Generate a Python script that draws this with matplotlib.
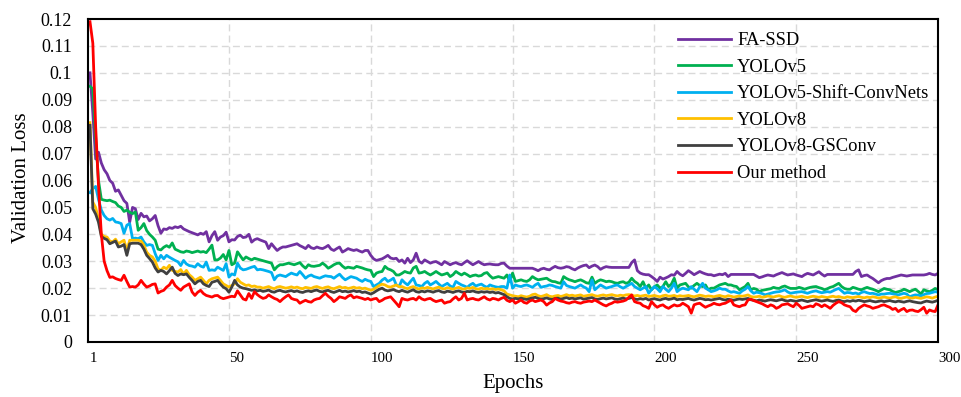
import numpy as np
import matplotlib
matplotlib.use("Agg")
import matplotlib.pyplot as plt

# validation loss per epoch, in units of 1e-4
fa_ssd = [
    1000, 850, 680, 705, 665, 640, 625, 600, 590, 560,
    565, 545, 525, 515, 445, 500, 495, 455, 478, 465,
    468, 450, 458, 470, 432, 404, 420, 418, 425, 422,
    428, 425, 430, 420, 415, 410, 406, 402, 398, 404,
    400, 410, 372, 395, 410, 378, 390, 395, 408, 372,
    380, 379, 392, 397, 388, 390, 400, 371, 380, 384,
    379, 375, 371, 347, 365, 352, 340, 348, 353, 353,
    356, 359, 362, 365, 358, 353, 347, 359, 350, 347,
    353, 349, 347, 352, 359, 345, 340, 347, 353, 334,
    340, 347, 343, 340, 343, 338, 334, 340, 340, 322,
    309, 303, 306, 309, 315, 322, 312, 309, 311, 299,
    305, 293, 311, 295, 305, 330, 300, 293, 305, 299,
    293, 297, 299, 293, 287, 299, 293, 287, 292, 295,
    290, 287, 295, 302, 294, 287, 293, 299, 292, 287,
    289, 290, 288, 287, 287, 292, 293, 282, 274, 274,
    274, 274, 274, 274, 274, 274, 274, 270, 265, 271,
    274, 270, 268, 275, 281, 276, 274, 276, 280, 278,
    272, 268, 275, 280, 284, 286, 276, 282, 286, 280,
    270, 276, 280, 278, 277, 277, 277, 277, 277, 277,
    277, 295, 305, 265, 256, 252, 250, 250, 243, 235,
    225, 241, 234, 238, 243, 250, 248, 262, 252, 246,
    255, 265, 258, 250, 256, 262, 257, 253, 250, 250,
    246, 249, 252, 250, 255, 243, 251, 251, 251, 251,
    251, 251, 251, 251, 251, 245, 239, 242, 246, 249,
    247, 245, 250, 254, 258, 253, 249, 251, 253, 249,
    246, 243, 250, 255, 252, 249, 255, 261, 252, 245,
    251, 251, 251, 251, 251, 251, 251, 251, 251, 251,
    262, 268, 243, 247, 249, 242, 236, 228, 220, 228,
    233, 236, 236, 240, 243, 246, 249, 247, 245, 247,
    249, 249, 249, 249, 249, 251, 255, 251, 249, 255,
]
yolov5 = [
    950, 940, 760, 600, 530, 527, 525, 527, 522, 518,
    505, 500, 485, 490, 482, 477, 483, 415, 425, 440,
    414, 400, 390, 378, 345, 342, 352, 358, 352, 368,
    345, 340, 335, 333, 338, 336, 332, 335, 338, 334,
    336, 332, 345, 360, 305, 305, 312, 325, 305, 340,
    287, 293, 335, 320, 305, 316, 310, 305, 311, 308,
    305, 302, 299, 296, 293, 268, 280, 287, 287, 290,
    293, 290, 287, 291, 295, 283, 274, 287, 282, 281,
    283, 285, 293, 285, 274, 280, 287, 292, 293, 282,
    274, 278, 276, 274, 281, 278, 275, 271, 268, 266,
    243, 256, 260, 262, 281, 272, 268, 262, 249, 249,
    255, 262, 258, 256, 275, 281, 256, 258, 262, 255,
    249, 255, 262, 255, 249, 252, 256, 243, 250, 262,
    255, 249, 256, 250, 243, 247, 249, 245, 247, 255,
    258, 246, 237, 240, 243, 240, 237, 249, 225, 256,
    225, 228, 231, 227, 225, 231, 243, 236, 231, 233,
    235, 237, 230, 225, 224, 220, 218, 243, 236, 231,
    228, 224, 228, 231, 226, 220, 218, 241, 218, 226,
    231, 228, 224, 226, 224, 220, 218, 222, 224, 218,
    222, 237, 225, 218, 206, 224, 200, 212, 194, 205,
    212, 200, 206, 224, 206, 215, 237, 200, 212, 215,
    218, 205, 200, 210, 218, 210, 206, 212, 194, 200,
    200, 206, 212, 215, 218, 212, 212, 208, 206, 194,
    200, 206, 218, 194, 199, 196, 187, 192, 194, 196,
    198, 203, 200, 199, 205, 208, 203, 199, 199, 199,
    203, 200, 196, 200, 203, 205, 206, 202, 199, 194,
    198, 203, 206, 212, 218, 206, 199, 196, 196, 203,
    200, 196, 194, 199, 203, 199, 196, 192, 187, 193,
    199, 196, 194, 188, 184, 187, 190, 196, 192, 187,
    192, 196, 188, 178, 194, 190, 187, 192, 199, 194,
]
yolov5_shift = [
    555, 570, 578, 530, 490, 470, 458, 453, 459, 446,
    444, 440, 404, 434, 440, 384, 386, 384, 390, 372,
    359, 362, 359, 328, 303, 322, 309, 322, 315, 309,
    303, 298, 284, 303, 290, 284, 282, 278, 291, 282,
    278, 297, 266, 268, 266, 278, 272, 266, 291, 241,
    253, 249, 293, 275, 268, 270, 274, 278, 281, 268,
    270, 268, 265, 262, 258, 231, 245, 249, 246, 243,
    250, 256, 252, 249, 262, 250, 237, 245, 249, 243,
    240, 237, 242, 246, 244, 243, 237, 245, 252, 240,
    231, 237, 243, 240, 237, 230, 225, 233, 228, 225,
    206, 212, 218, 230, 237, 225, 230, 237, 212, 206,
    231, 220, 212, 225, 237, 212, 210, 206, 218, 225,
    212, 218, 225, 215, 206, 212, 218, 208, 203, 225,
    218, 212, 208, 203, 212, 218, 208, 212, 215, 208,
    203, 212, 208, 205, 203, 206, 206, 200, 249, 200,
    212, 208, 206, 210, 212, 208, 203, 212, 218, 203,
    206, 208, 212, 210, 206, 203, 200, 224, 210, 206,
    203, 200, 206, 212, 205, 200, 187, 231, 194, 203,
    212, 206, 200, 203, 206, 210, 212, 205, 200, 206,
    212, 218, 206, 200, 194, 200, 206, 181, 195, 206,
    198, 187, 206, 196, 187, 200, 218, 187, 195, 200,
    197, 194, 206, 196, 187, 205, 218, 200, 194, 187,
    190, 194, 200, 196, 196, 190, 185, 187, 184, 181,
    190, 196, 206, 190, 181, 185, 183, 180, 175, 178,
    181, 184, 186, 187, 190, 194, 186, 181, 183, 185,
    186, 187, 184, 181, 185, 188, 190, 186, 183, 185,
    187, 185, 190, 195, 199, 190, 181, 184, 183, 180,
    182, 178, 184, 187, 183, 180, 181, 178, 175, 178,
    178, 180, 181, 179, 177, 175, 178, 181, 178, 168,
    172, 175, 174, 171, 176, 180, 181, 184, 187, 185,
]
yolov8 = [
    815, 520, 500, 455, 400, 392, 390, 375, 372, 382,
    365, 372, 378, 340, 378, 378, 378, 378, 375, 360,
    334, 322, 316, 300, 272, 266, 278, 272, 285, 266,
    262, 260, 269, 253, 266, 250, 241, 229, 235, 241,
    229, 216, 229, 235, 238, 241, 229, 216, 210, 204,
    210, 216, 235, 222, 216, 210, 212, 206, 208, 204,
    204, 200, 203, 206, 201, 198, 204, 206, 203, 200,
    202, 205, 201, 204, 200, 198, 203, 201, 199, 204,
    206, 202, 199, 203, 205, 200, 198, 202, 206, 201,
    203, 199, 201, 204, 200, 202, 198, 200, 196, 192,
    196, 203, 210, 215, 212, 206, 204, 208, 212, 205,
    206, 201, 198, 203, 206, 200, 197, 201, 199, 203,
    200, 197, 201, 204, 199, 197, 202, 199, 196, 200,
    203, 198, 196, 201, 199, 203, 198, 196, 200, 197,
    199, 196, 198, 195, 197, 194, 190, 178, 175, 172,
    170, 168, 172, 169, 167, 170, 176, 178, 172, 169,
    172, 176, 170, 168, 171, 173, 169, 172, 176, 172,
    174, 171, 173, 175, 170, 172, 174, 176, 172, 170,
    173, 175, 172, 174, 176, 173, 171, 174, 172, 175,
    176, 174, 171, 173, 170, 172, 174, 169, 171, 173,
    170, 168, 172, 174, 170, 171, 173, 169, 172, 170,
    171, 173, 170, 168, 171, 174, 172, 169, 171, 170,
    168, 171, 173, 170, 168, 172, 170, 167, 169, 171,
    170, 172, 175, 169, 167, 168, 170, 166, 168, 171,
    169, 167, 170, 172, 168, 166, 169, 171, 168, 166,
    168, 170, 167, 165, 168, 170, 168, 166, 169, 167,
    165, 168, 170, 167, 169, 166, 164, 168, 166, 165,
    167, 169, 166, 164, 167, 165, 168, 166, 163, 165,
    167, 165, 163, 166, 168, 164, 162, 165, 167, 164,
    163, 166, 164, 162, 165, 168, 166, 163, 167, 170,
]
yolov8_gsconv = [
    805, 495, 475, 445, 392, 385, 380, 365, 370, 375,
    353, 356, 362, 322, 365, 367, 367, 367, 362, 345,
    322, 310, 297, 275, 260, 266, 262, 253, 265, 278,
    255, 247, 253, 250, 253, 240, 229, 216, 225, 229,
    216, 210, 206, 222, 225, 229, 215, 204, 198, 185,
    204, 229, 212, 204, 200, 198, 195, 192, 194, 190,
    192, 188, 190, 193, 187, 185, 190, 192, 188, 186,
    189, 191, 187, 190, 186, 184, 188, 190, 187, 191,
    193, 188, 186, 190, 192, 187, 184, 188, 192, 187,
    189, 186, 188, 191, 187, 189, 184, 186, 182, 178,
    183, 190, 196, 200, 193, 190, 192, 195, 190, 187,
    192, 188, 185, 190, 194, 187, 185, 189, 186, 190,
    188, 185, 189, 191, 186, 184, 189, 187, 184, 188,
    190, 186, 184, 188, 187, 190, 186, 184, 187, 185,
    187, 184, 186, 182, 184, 180, 176, 168, 162, 160,
    162, 160, 163, 160, 158, 161, 164, 166, 162, 159,
    161, 164, 160, 158, 162, 163, 159, 162, 165, 161,
    163, 160, 162, 164, 159, 161, 163, 165, 160, 158,
    161, 163, 160, 162, 164, 160, 158, 161, 163, 160,
    162, 165, 160, 158, 161, 159, 162, 156, 159, 161,
    158, 156, 160, 162, 158, 160, 163, 157, 159, 158,
    160, 162, 158, 156, 159, 162, 160, 157, 158, 156,
    158, 160, 162, 158, 156, 159, 157, 155, 158, 160,
    158, 160, 162, 157, 155, 153, 156, 154, 152, 155,
    157, 155, 153, 156, 158, 154, 152, 155, 153, 151,
    154, 156, 153, 150, 153, 155, 157, 154, 152, 154,
    156, 153, 151, 154, 156, 152, 150, 153, 151, 154,
    152, 155, 153, 150, 152, 154, 151, 149, 151, 153,
    150, 152, 154, 151, 149, 152, 150, 148, 151, 153,
    150, 148, 146, 145, 149, 152, 150, 148, 151, 155,
]
our_method = [
    1190, 1110, 800, 580, 400, 300, 265, 240, 242, 236,
    232, 229, 248, 225, 204, 206, 204, 212, 229, 215,
    204, 208, 214, 216, 182, 188, 192, 204, 212, 229,
    210, 200, 192, 204, 210, 216, 186, 173, 185, 192,
    180, 173, 170, 167, 172, 173, 165, 161, 164, 167,
    170, 168, 190, 175, 160, 156, 180, 162, 187, 176,
    168, 162, 165, 175, 168, 162, 158, 150, 160, 168,
    175, 162, 158, 156, 144, 150, 155, 150, 148, 156,
    160, 162, 172, 181, 170, 162, 150, 158, 168, 165,
    162, 170, 175, 164, 168, 165, 162, 158, 162, 156,
    160, 162, 150, 155, 162, 165, 168, 156, 144, 131,
    162, 158, 156, 160, 162, 156, 168, 160, 156, 160,
    162, 155, 150, 153, 156, 144, 148, 150, 160, 168,
    156, 162, 181, 156, 160, 162, 158, 156, 162, 168,
    160, 156, 162, 160, 156, 162, 166, 155, 150, 156,
    144, 150, 156, 147, 144, 152, 156, 150, 153, 156,
    150, 137, 145, 150, 162, 156, 152, 150, 146, 144,
    148, 150, 146, 144, 148, 150, 152, 150, 156, 150,
    144, 138, 134, 140, 144, 150, 148, 150, 152, 156,
    166, 175, 150, 146, 144, 135, 131, 125, 150, 138,
    129, 135, 138, 130, 125, 132, 138, 134, 136, 144,
    138, 131, 107, 138, 142, 144, 136, 129, 134, 138,
    144, 140, 138, 142, 144, 150, 156, 138, 134, 131,
    136, 138, 156, 159, 154, 150, 146, 142, 136, 131,
    138, 134, 125, 130, 138, 140, 142, 136, 131, 144,
    136, 125, 128, 131, 134, 131, 142, 138, 131, 138,
    132, 125, 136, 144, 150, 146, 138, 134, 131, 118,
    113, 125, 132, 138, 134, 131, 125, 128, 131, 136,
    138, 133, 129, 121, 125, 113, 120, 125, 113, 118,
    119, 115, 113, 120, 129, 107, 119, 115, 113, 138,
]

labels = ['FA-SSD', 'YOLOv5', 'YOLOv5-Shift-ConvNets', 'YOLOv8',
          'YOLOv8-GSConv', 'Our method']
colors = ['#7030A0', '#00B050', '#00B0F0', '#FFC000', '#404040', '#FF0000']
series = [fa_ssd, yolov5, yolov5_shift, yolov8, yolov8_gsconv, our_method]

x_ticks = [1, 50, 100, 150, 200, 250, 300]
y_ticks = [i / 100 for i in range(13)]
y_tick_labels = ['0', '0.01', '0.02', '0.03', '0.04', '0.05', '0.06',
                 '0.07', '0.08', '0.09', '0.1', '0.11', '0.12']

plt.rcParams['font.family'] = ['Liberation Serif', 'DejaVu Serif']

fig = plt.figure(figsize=(9.62, 3.97), dpi=100)
ax = fig.add_axes([88 / 962, 1 - 342 / 397, 850 / 962, 323 / 397])

epochs = np.arange(1, 301)
for vals, lab, col in zip(series, labels, colors):
    ax.plot(epochs, np.array(vals) / 1e4, color=col, lw=2.0, label=lab,
            solid_joinstyle='round')

ax.set_xlim(0.3, 300)
ax.set_ylim(0, 0.12)
ax.set_xticks(x_ticks)
ax.set_xticklabels([str(t) for t in x_ticks], ha='left', fontsize=10.7)
ax.set_yticks(y_ticks)
ax.set_yticklabels(y_tick_labels, fontsize=13)
ax.tick_params(axis='both', length=0)
ax.tick_params(axis='y', pad=11.5)
ax.tick_params(axis='x', pad=7)

for y in y_ticks[1:-1]:
    ax.axhline(y, color='#D9D9D9', lw=1.0, ls=(0, (5, 3)), zorder=0)
for xv in [50, 100, 150, 200, 250]:
    ax.axvline(xv, color='#D9D9D9', lw=1.0, ls=(0, (5, 3)), zorder=0)

for s in ax.spines.values():
    s.set_linewidth(1.5)
    s.set_color('black')

ax.set_xlabel('Epochs', fontsize=15)
ax.set_ylabel('Validation Loss', fontsize=15)
ax.xaxis.set_label_coords(0.5, -0.098)
ax.yaxis.set_label_coords(-0.0665, 0.508)

ax.legend(loc='upper left', bbox_to_anchor=(678 / 962, 1 - 32 / 397),
          bbox_transform=fig.transFigure, frameon=False, fontsize=13.3,
          handlelength=2.87, handletextpad=0.32, labelspacing=0.52,
          borderpad=0, borderaxespad=0)

fig.savefig('out.png', dpi=100)
